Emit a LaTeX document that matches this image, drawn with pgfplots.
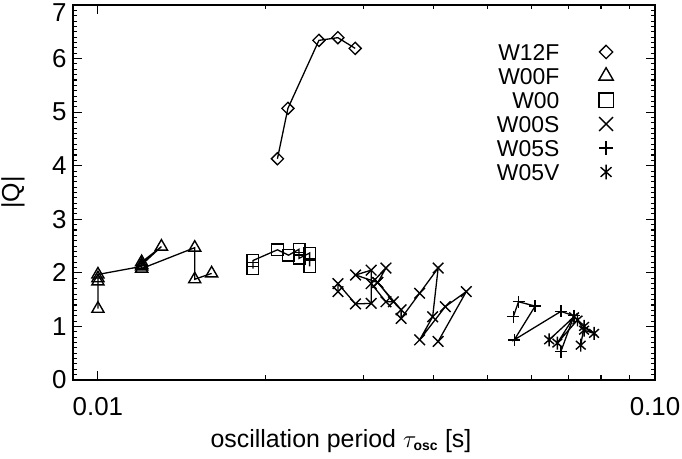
\documentclass[border=0pt]{standalone}
\usepackage{fontspec}
\setmainfont{Liberation Sans}
\usepackage{pgfplots}
\pgfplotsset{compat=1.18}
\pgfdeclareplotmark{ast8}{%
  \pgfpathmoveto{\pgfqpoint{0pt}{\pgfplotmarksize}}%
  \pgfpathlineto{\pgfqpoint{0pt}{-\pgfplotmarksize}}%
  \pgfpathmoveto{\pgfqpoint{.75\pgfplotmarksize}{.66\pgfplotmarksize}}%
  \pgfpathlineto{\pgfqpoint{-.75\pgfplotmarksize}{-.66\pgfplotmarksize}}%
  \pgfpathmoveto{\pgfqpoint{-.75\pgfplotmarksize}{.66\pgfplotmarksize}}%
  \pgfpathlineto{\pgfqpoint{.75\pgfplotmarksize}{-.66\pgfplotmarksize}}%
  \pgfusepathqstroke}
\pgfplotsset{
  w12f/.style={mark=square, mark size=4.3bp, mark options={rotate=45}},
  w00f/.style={mark=triangle, mark size=7bp},
  w00/.style={mark=square, mark size=5.8bp},
  w00s/.style={mark=x, mark size=7.5bp},
  w05s/.style={mark=+, mark size=6bp},
  w05v/.style={mark=ast8, mark size=6.5bp},
}
\begin{document}
\begin{tikzpicture}
\begin{axis}[
  name=ax,
  xmode=log,
  xmin=0.00902, xmax=0.1, ymin=0, ymax=7,
  width=582bp, height=375bp, scale only axis,
  xtick={0.01,0.1}, xticklabels={0.01,0.10},
  minor xtick={0.02,0.03,0.04,0.05,0.06,0.07,0.08,0.09},
  ytick={0,1,2,3,4,5,6,7}, minor y tick num=9,
  yticklabels={0,1,2,3,4,5,6,\raisebox{-16.5bp}[0pt][0pt]{7}},
  tick align=inside,
  major tick length=9bp, minor tick length=4.5bp,
  tick style={line width=1.1bp, black},
  axis line style={line width=1.6bp},
  /pgf/number format/assume math mode=true,
  tick label style={font=\fontsize{26}{26}\selectfont},
  xticklabel style={yshift=-14bp},
  yticklabel style={xshift=-3bp},
  every axis x label/.style={at={(rel axis cs:0.4605,0)}, anchor=base, yshift=-67bp, font=\fontsize{25}{25}\selectfont},
  every axis y label/.style={at={(rel axis cs:-0.103,0.5)}, rotate=90, anchor=center, font=\fontsize{25}{25}\selectfont},
  xlabel={oscillation period $\tau_{\mbox{\fontsize{14}{14}\selectfont\bfseries osc}}$ [s]},
  ylabel={|Q|},
  every axis plot/.append style={black, line width=1.3bp, mark options={solid, line width=1.4bp}},
  legend style={at={(0.9287,0.8973)}, anchor=north east, draw=none, fill=none, inner sep=0pt,
    row sep=7.5bp, column sep=39.5bp, font=\fontsize{23}{23}\selectfont,
    nodes={inner sep=0pt, text height=16.5bp, text depth=0bp}},
  legend cell align=right, legend plot pos=right,
]
\addplot[w12f, forget plot] coordinates {
 (0.02100,4.13) (0.02193,5.07) (0.02493,6.34) (0.02696,6.39) (0.02896,6.19)};
\addplot[w00f, forget plot] coordinates {
 (0.01,1.33) (0.01,1.84) (0.01,1.90) (0.01,1.97) (0.01198,2.12) (0.01198,2.20)
 (0.01300,2.49) (0.01198,2.15) (0.01198,2.08) (0.01492,2.47) (0.01492,1.88) (0.01600,1.99)};
\addplot[w00, forget plot] coordinates {
 (0.01898,2.08) (0.01898,2.23) (0.02100,2.43) (0.02199,2.33) (0.02296,2.44)
 (0.02296,2.27) (0.02399,2.37) (0.02399,2.12)};
\addplot[w00s, forget plot] coordinates {
 (0.02697,1.65) (0.02697,1.80) (0.02900,1.42) (0.03094,1.43) (0.03094,2.05)
 (0.02900,1.96) (0.03179,1.82) (0.03289,2.09) (0.03094,1.80) (0.03289,1.46)
 (0.03392,1.46) (0.03179,1.82) (0.03502,1.31) (0.03502,1.15) (0.03781,1.62)
 (0.04081,2.09) (0.03990,1.18) (0.03781,0.75) (0.04204,1.37) (0.04584,1.65) (0.04081,0.72)};
\addplot[w05s, forget plot] coordinates {
 (0.05567,1.18) (0.05689,1.46) (0.06095,1.38) (0.05590,0.75) (0.06776,1.28)
 (0.07158,1.20) (0.06776,0.53)};
\addplot[w05v, forget plot] coordinates {
 (0.06457,0.75) (0.07158,1.18) (0.06681,0.69) (0.07260,1.12) (0.07460,0.93)
 (0.07775,0.87) (0.07460,1.00) (0.07358,0.65)};
\addlegendimage{only marks, w12f, mark size=4.7bp}\addlegendentry{W12F}
\addlegendimage{only marks, w00f, mark size=8.3bp}\addlegendentry{W00F}
\addlegendimage{only marks, w00, mark size=7.2bp}\addlegendentry{W00}
\addlegendimage{only marks, w00s, mark size=9.8bp}\addlegendentry{W00S}
\addlegendimage{only marks, w05s, mark size=7bp}\addlegendentry{W05S}
\addlegendimage{only marks, w05v, mark size=7.3bp}\addlegendentry{W05V}
\end{axis}
\pgfresetboundingbox
\path[use as bounding box] ([xshift=-73bp,yshift=-79bp]ax.south west) rectangle ([xshift=27bp,yshift=5bp]ax.north east);
\end{tikzpicture}
\end{document}
